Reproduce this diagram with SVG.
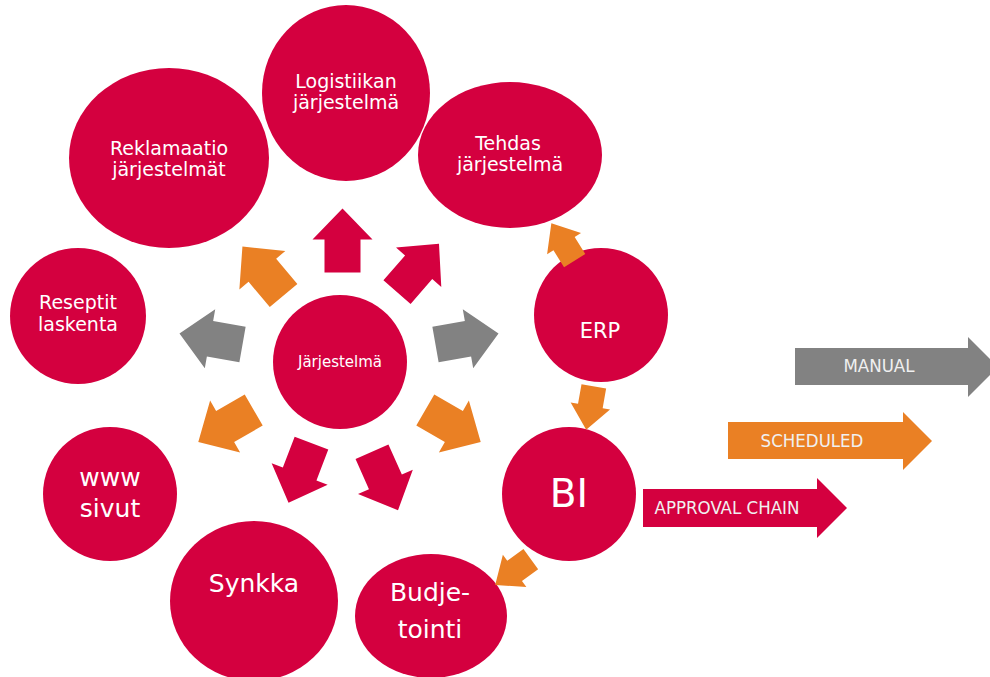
<svg xmlns="http://www.w3.org/2000/svg" xmlns:xlink="http://www.w3.org/1999/xlink" width="990" height="677" viewBox="0 0 990 677">
<style>
.node{fill:#D4003F}
.t{font-family:"DejaVu Sans","Liberation Sans",sans-serif;fill:#ffffff;text-anchor:middle}
.red{fill:#D4003F}
.org{fill:#EA8024}
.gry{fill:#828282}
.lg{font-family:"DejaVu Sans Condensed","DejaVu Sans",sans-serif;font-size:18.5px;fill:#f0f0f0;text-anchor:middle}
</style>
<defs>
<polygon id="big" points="-32,-18 1,-18 1,-30 32,0 1,30 1,18 -32,18"/>
<polygon id="small" points="-22,-12.5 -2,-12.5 -2,-20 22,0 -2,20 -2,12.5 -22,12.5"/>
</defs>
<rect width="990" height="677" fill="#ffffff"/>

<g id="reklamaatio"><ellipse class="node" cx="169" cy="158" rx="100" ry="90"/><text class="t" font-size="19" x="169" y="155">Reklamaatio</text><text class="t" font-size="19" x="169" y="176">järjestelmät</text></g>
<g id="logistiikan"><ellipse class="node" cx="346" cy="93" rx="84" ry="88"/><text class="t" font-size="19" x="346" y="88">Logistiikan</text><text class="t" font-size="19" x="346" y="109">järjestelmä</text></g>
<g id="tehdas"><ellipse class="node" cx="510" cy="155" rx="92" ry="73"/><text class="t" font-size="19" x="508" y="150">Tehdas</text><text class="t" font-size="19" x="510" y="171">järjestelmä</text></g>
<g id="reseptit"><circle class="node" cx="78" cy="316" r="68"/><text class="t" font-size="19" x="78" y="309">Reseptit</text><text class="t" font-size="19" x="78" y="331">laskenta</text></g>
<g id="jarjestelma"><circle class="node" cx="340" cy="362" r="67"/><text class="t" font-size="15" x="340" y="367">Järjestelmä</text></g>
<g id="erp"><circle class="node" cx="601" cy="315" r="67"/><text class="t" font-size="21" x="600" y="338">ERP</text></g>
<g id="bi"><circle class="node" cx="569" cy="494" r="67"/><text class="t" font-size="39" x="569" y="507">BI</text></g>
<g id="www"><circle class="node" cx="110" cy="494" r="67"/><text class="t" font-size="25" x="110" y="486">www</text><text class="t" font-size="25" x="110" y="517">sivut</text></g>
<g id="synkka"><ellipse class="node" cx="254" cy="601" rx="84" ry="80"/><text class="t" font-size="25" x="254" y="592">Synkka</text></g>
<g id="budjetointi"><ellipse class="node" cx="431" cy="616" rx="76" ry="62"/><text class="t" font-size="25" x="430" y="601">Budje-</text><text class="t" font-size="25" x="430" y="638">tointi</text></g>

<g id="connectors">
<use xlink:href="#big" class="red" transform="translate(342.5,240.5) rotate(-90)"/>
<use xlink:href="#big" class="red" transform="translate(418,268) rotate(-49)"/>
<use xlink:href="#big" class="org" transform="translate(263,271) rotate(-130)"/>
<use xlink:href="#big" class="gry" transform="translate(211,339) rotate(-170)"/>
<use xlink:href="#big" class="gry" transform="translate(467,339) rotate(-10)"/>
<use xlink:href="#big" class="org" transform="translate(226,426) rotate(150)"/>
<use xlink:href="#big" class="org" transform="translate(453,426) rotate(30)"/>
<use xlink:href="#big" class="red" transform="translate(300,473) rotate(111)"/>
<use xlink:href="#big" class="red" transform="translate(385,481) rotate(66)"/>
<use xlink:href="#small" class="org" transform="translate(563,242) rotate(-122)"/>
<use xlink:href="#small" class="org" transform="translate(590,408) rotate(100)"/>
<use xlink:href="#small" class="org" transform="translate(513,572) rotate(144)"/>
</g>

<g id="legend-manual"><polygon class="gry" points="795,348 968,348 968,337 998,367 968,397 968,385 795,385"/><text class="lg" x="879" y="372">MANUAL</text></g>
<g id="legend-scheduled"><polygon class="org" points="728,422 903,422 903,412 932,441 903,470 903,459 728,459"/><text class="lg" x="812" y="447">SCHEDULED</text></g>
<g id="legend-approval"><polygon class="red" points="643,489 817,489 817,478 847,508 817,538 817,527 643,527"/><text class="lg" x="727" y="514">APPROVAL CHAIN</text></g>
</svg>
